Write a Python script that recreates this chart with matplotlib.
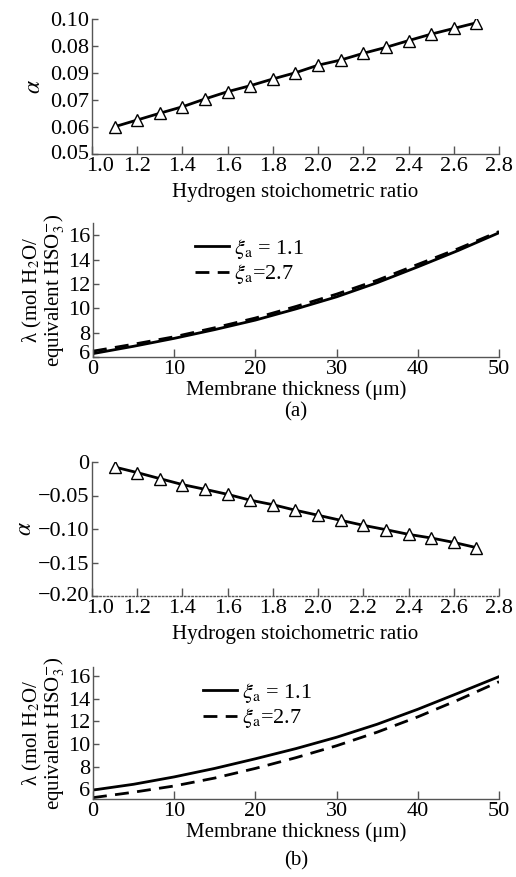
import matplotlib
matplotlib.use("Agg")
import matplotlib.pyplot as plt
from matplotlib.transforms import offset_copy

plt.rcParams['font.family'] = ['Liberation Serif', 'DejaVu Serif']
plt.rcParams['mathtext.fontset'] = 'stix'
plt.rcParams['font.size'] = 15

# hydrogen stoichometric ratio sweep
stoich = [1.1, 1.2, 1.3, 1.4, 1.5, 1.6, 1.7, 1.8, 1.9, 2.0,
          2.1, 2.2, 2.3, 2.4, 2.5, 2.6, 2.7]
alpha_a = [0.0601, 0.0626, 0.0651, 0.0675, 0.0704, 0.0731, 0.0753, 0.0778, 0.0801,
           0.0829, 0.0848, 0.0873, 0.0895, 0.0920, 0.0944, 0.0965, 0.0986]
alpha_b = [-0.0075, -0.0158, -0.0248, -0.0337, -0.0408, -0.0483, -0.057, -0.0637, -0.072,
           -0.0795, -0.087, -0.0945, -0.101, -0.108, -0.1134, -0.120, -0.1278]

# water content across the membrane
thick = [0, 5, 10, 15, 20, 25, 30, 35, 40, 45, 50]
lam_a_11 = [6.28, 6.88, 7.53, 8.25, 9.03, 9.95, 10.94, 12.1, 13.4, 14.75, 16.2]
lam_a_27 = [6.48, 7.05, 7.66, 8.4, 9.2, 10.15, 11.16, 12.3, 13.6, 14.9, 16.3]
lam_b_11 = [5.94, 6.45, 7.1, 7.85, 8.7, 9.6, 10.6, 11.75, 13.07, 14.5, 15.95]
lam_b_27 = [5.27, 5.75, 6.3, 7.0, 7.85, 8.8, 9.85, 11.05, 12.4, 13.9, 15.5]

alpha_a_ticks = [0.05, 0.06, 0.07, 0.08, 0.09, 0.10]
alpha_a_labels = ['0.05', '0.06', '0.07', '0.09', '0.08', '0.10']
alpha_b_ticks = [-0.20, -0.15, -0.10, -0.05, 0]
alpha_b_labels = ['\u22120.20', '\u22120.15', '\u22120.10', '\u22120.05', '0']
stoich_ticks = [1.0, 1.2, 1.4, 1.6, 1.8, 2.0, 2.2, 2.4, 2.6, 2.8]
thick_ticks = [0, 10, 20, 30, 40, 50]

W, H = 516, 877
TICK_FS = 16
fig = plt.figure(figsize=(W / 100, H / 100), dpi=100)


def box(left, top, right, bottom):
    return [left / W, 1 - bottom / H, (right - left) / W, (bottom - top) / H]


def style(ax):
    for s in ['top', 'right']:
        ax.spines[s].set_visible(False)
    for s in ['left', 'bottom']:
        ax.spines[s].set_color('#555555')
        ax.spines[s].set_linewidth(1.0)
    ax.tick_params(axis='x', direction='in', length=6, width=1, color='#555555',
                   pad=2, labelsize=TICK_FS)
    ax.tick_params(axis='y', direction='in', length=4, width=1, color='#555555',
                   pad=2, labelsize=TICK_FS)


def nudge(label, dx=0, dy=0):
    label.set_transform(offset_copy(label.get_transform(), fig=fig,
                                    x=dx, y=dy, units='dots'))


def alpha_panel(ax, vals, ticks, labels):
    style(ax)
    ax.plot(stoich, vals, color='black', lw=2, marker='^', ms=8.5,
            mfc='white', mec='black', mew=1)
    ax.set_xlim(1.0, 2.8)
    ax.set_ylim(ticks[0], ticks[-1])
    ax.set_xticks(stoich_ticks)
    ax.set_xticklabels(['%.1f' % t for t in stoich_ticks])
    ax.set_yticks(ticks)
    ax.set_yticklabels(labels)
    ax.set_xlabel('Hydrogen stoichometric ratio', labelpad=5)
    # corner labels pushed apart
    nudge(ax.get_yticklabels()[0], dy=2)
    nudge(ax.get_xticklabels()[0], dx=8)


def lambda_panel(ax, y11, y27, ylim, legend_at):
    style(ax)
    ax.plot(thick, y11, color='black', lw=2, label=r'$\xi_{\mathrm{a}}$ = 1.1')
    ax.plot(thick, y27, color='black', lw=2, dashes=(5, 3), label=r'$\xi_{\mathrm{a}}$=2.7')
    ax.set_xlim(0, 50)
    ax.set_ylim(*ylim)
    ax.set_xticks(thick_ticks)
    ax.set_yticks([6, 8, 10, 12, 14, 16])
    ax.set_xlabel('Membrane thickness (\u03bcm)', labelpad=1)
    ax.legend(loc='upper left', bbox_to_anchor=legend_at, frameon=False,
              handlelength=1.5, handletextpad=0.25, labelspacing=0.05,
              borderaxespad=0, fontsize=16)
    ax.set_ylabel('\u03bb (mol H$_2$O/\nequivalent HSO$_3^{-}$)', labelpad=1,
                  linespacing=0.9)


ax1 = fig.add_axes(box(92, 19, 499, 154))
alpha_panel(ax1, alpha_a, alpha_a_ticks, alpha_a_labels)
ax1.set_ylabel(r'$\alpha$', labelpad=4, fontsize=17)

ax2 = fig.add_axes(box(93, 223, 499, 357))
lambda_panel(ax2, lam_a_11, lam_a_27, (6, 17), (0.23, 0.96))
nudge(ax2.get_yticklabels()[0], dy=5)

ax3 = fig.add_axes(box(92, 462, 499, 596))
alpha_panel(ax3, alpha_b, alpha_b_ticks, alpha_b_labels)
ax3.spines['bottom'].set_linestyle(':')
ax3.set_ylabel(r'$\alpha$', labelpad=1, fontsize=17)

ax4 = fig.add_axes(box(93, 667, 499, 799))
lambda_panel(ax4, lam_b_11, lam_b_27, (5.15, 16.8), (0.25, 0.96))

fig.text(296 / W, 1 - 412 / H, '(a)', ha='center', va='center', fontsize=15)
fig.text(296 / W, 1 - 861 / H, '(b)', ha='center', va='center', fontsize=15)

fig.savefig('out.png', dpi=100)
